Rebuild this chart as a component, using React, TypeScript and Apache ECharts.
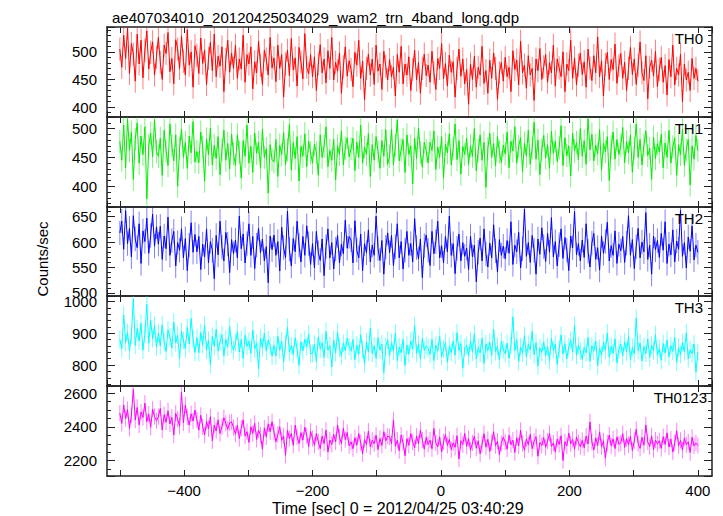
import React, { useEffect, useRef } from "react";
import * as echarts from "echarts";

const TITLE = "ae407034010_20120425034029_wam2_trn_4band_long.qdp";
const X_NAME = "Time [sec] 0 = 2012/04/25 03:40:29";
const Y_NAME = "Counts/sec";

// time grid (seconds), -500 .. 400
const T_START = -500;
const T_STEP = 3;
const N_POINTS = 301;
const TIMES: number[] = Array.from({ length: N_POINTS }, (_, i) => T_START + T_STEP * i);

const PANEL_NAMES = ["TH0", "TH1", "TH2", "TH3", "TH0123"];

const TH0 = [
  505, 472, 530, 488, 543, 461, 515, 496, 447, 532, 478, 521, 453, 503, 538, 469, 499, 518, 458, 490,
  526, 481, 450, 512, 497, 535, 464, 488, 442, 522, 505, 470, 529, 483, 458, 540, 476, 500, 436, 511,
  494, 461, 525, 479, 503, 441, 488, 517, 466, 532, 455, 492, 474, 509, 428, 486, 521, 463, 498, 470,
  512, 452, 487, 469, 530, 445, 495, 478, 509, 433, 482, 462, 519, 476, 441, 503, 487, 458, 526, 471,
  489, 446, 512, 470, 495, 418, 478, 503, 457, 524, 467, 489, 438, 508, 482, 451, 533, 472, 460, 495,
  455, 491, 430, 478, 513, 462, 487, 444, 502, 470, 526, 449, 481, 465, 498, 425, 473, 509, 456, 484,
  468, 437, 499, 476, 521, 452, 483, 413, 470, 496, 458, 487, 441, 512, 465, 478, 432, 501, 474, 449,
  486, 455, 472, 420, 495, 463, 510, 442, 478, 458, 491, 430, 468, 503, 449, 481, 425, 470, 496, 457,
  476, 445, 501, 462, 432, 488, 470, 515, 451, 479, 438, 494, 463, 482, 418, 470, 505, 456, 487, 442,
  468, 405, 478, 450, 492, 436, 472, 458, 510, 443, 466, 425, 485, 452, 498, 470, 414, 462, 481, 447,
  490, 455, 472, 428, 502, 468, 485, 440, 519, 462, 476, 434, 493, 458, 470, 412, 487, 466, 506, 450,
  473, 495, 445, 480, 462, 512, 438, 487, 471, 455, 500, 428, 478, 466, 521, 452, 489, 440, 476, 498,
  459, 482, 436, 505, 471, 448, 493, 462, 527, 455, 484, 420, 477, 499, 450, 486, 468, 514, 443, 475,
  497, 452, 481, 430, 470, 508, 459, 487, 441, 476, 518, 462, 448, 493, 415, 472, 485, 456, 501, 437,
  468, 490, 445, 475, 422, 486, 455, 512, 440, 470, 458, 496, 410, 478, 449, 463, 430, 488, 452, 470,
  447,
];

const TH1 = [
  478, 445, 506, 432, 517, 462, 494, 412, 481, 510, 440, 487, 455, 503, 378, 470, 492, 451, 515, 460,
  452, 483, 419, 497, 461, 436, 508, 470, 444, 489, 400, 466, 499, 450, 476, 431, 487, 458, 512, 442,
  460, 441, 494, 468, 409, 482, 455, 501, 437, 471, 448, 486, 420, 463, 497, 445, 474, 430, 490, 456,
  436, 489, 459, 414, 479, 452, 506, 440, 469, 424, 492, 457, 476, 431, 499, 450, 465, 388, 472, 446,
  442, 481, 417, 471, 455, 493, 437, 463, 507, 428, 476, 448, 486, 409, 469, 452, 491, 434, 478, 458,
  440, 473, 458, 419, 489, 450, 469, 503, 434, 462, 445, 481, 411, 470, 455, 496, 437, 466, 484, 451,
  465, 483, 427, 476, 450, 506, 440, 468, 455, 491, 417, 472, 445, 486, 460, 431, 479, 452, 498, 438,
  452, 499, 437, 471, 515, 444, 463, 481, 424, 489, 455, 470, 404, 483, 448, 501, 458, 433, 476, 462,
  440, 476, 462, 496, 429, 468, 450, 486, 414, 473, 458, 491, 437, 465, 508, 446, 479, 421, 469, 455,
  483, 438, 470, 452, 500, 427, 462, 489, 445, 476, 398, 465, 492, 450, 474, 435, 486, 459, 441, 471,
  456, 494, 432, 478, 461, 503, 440, 469, 484, 425, 475, 452, 497, 438, 466, 511, 447, 480, 420, 463,
  488, 449, 472, 431, 495, 457, 478, 443, 466, 505, 436, 484, 453, 470, 418, 492, 461, 476, 446, 500,
  452, 479, 438, 517, 463, 490, 444, 471, 456, 498, 428, 475, 460, 486, 410, 468, 494, 447, 481, 455,
  470, 502, 441, 477, 458, 489, 424, 466, 508, 450, 481, 437, 471, 496, 453, 466, 412, 485, 448, 474,
  459, 490, 432, 475, 450, 497, 440, 468, 484, 419, 472, 455, 499, 436, 463, 481, 402, 470, 447, 488,
  462,
];

const TH2 = [
  618, 641, 586, 662, 597, 627, 571, 652, 606, 589, 636, 558, 622, 601, 647, 578, 613, 655, 592, 630,
  596, 631, 566, 612, 587, 649, 574, 603, 621, 553, 599, 584, 626, 569, 607, 544, 594, 638, 580, 615,
  581, 611, 546, 596, 571, 626, 559, 601, 584, 528, 613, 575, 641, 590, 563, 619, 596, 540, 605, 577,
  604, 569, 651, 587, 616, 559, 597, 636, 574, 611, 548, 594, 627, 579, 606, 563, 591, 520, 612, 585,
  614, 574, 601, 543, 629, 589, 569, 661, 586, 553, 607, 581, 641, 594, 561, 611, 574, 632, 597, 556,
  597, 549, 621, 579, 564, 606, 534, 591, 626, 569, 599, 547, 586, 613, 559, 596, 577, 643, 588, 611,
  604, 559, 642, 584, 569, 616, 544, 597, 579, 624, 561, 594, 574, 651, 587, 564, 603, 537, 590, 618,
  579, 613, 554, 591, 636, 569, 601, 547, 584, 621, 574, 597, 561, 646, 589, 567, 606, 530, 593, 614,
  584, 554, 621, 577, 601, 641, 569, 593, 559, 611, 581, 651, 574, 597, 538, 588, 616, 563, 599, 572,
  588, 546, 612, 571, 594, 522, 580, 608, 563, 626, 577, 551, 598, 569, 634, 583, 541, 605, 574, 592,
  567, 603, 578, 640, 556, 594, 581, 619, 549, 587, 665, 572, 599, 560, 613, 584, 537, 606, 576, 628,
  591, 562, 617, 580, 648, 571, 601, 553, 595, 626, 568, 609, 584, 544, 612, 589, 660, 575, 597, 563,
  604, 570, 636, 582, 551, 598, 617, 566, 589, 545, 612, 578, 601, 639, 563, 593, 574, 622, 558, 596,
  583, 611, 560, 598, 652, 574, 605, 548, 591, 627, 569, 600, 581, 658, 566, 594, 537, 612, 585, 603,
  570, 617, 584, 640, 558, 596, 575, 624, 561, 602, 586, 663, 572, 599, 549, 610, 582, 632, 565, 594,
  580,
];

const TH3 = [
  880, 852, 958, 871, 903, 845, 896, 1008, 862, 915, 876, 932, 847, 898, 992, 869, 941, 883, 925, 857,
  901, 861, 927, 874, 843, 911, 889, 854, 936, 870, 894, 821, 906, 878, 851, 919, 867, 947, 882, 840,
  886, 839, 903, 864, 926, 847, 879, 801, 891, 859, 913, 844, 873, 896, 829, 881, 857, 922, 865, 848,
  870, 906, 841, 881, 821, 894, 859, 876, 837, 911, 851, 869, 788, 885, 854, 901, 844, 879, 862, 828,
  863, 829, 891, 847, 876, 809, 867, 919, 841, 861, 834, 886, 851, 799, 873, 845, 881, 858, 898, 836,
  837, 866, 811, 889, 851, 871, 824, 907, 847, 861, 794, 879, 839, 904, 853, 829, 869, 846, 884, 858,
  844, 881, 817, 863, 834, 896, 849, 804, 873, 841, 917, 837, 861, 821, 886, 847, 866, 776, 858, 879,
  829, 871, 844, 901, 814, 857, 839, 881, 799, 863, 834, 876, 851, 924, 837, 866, 819, 884, 846, 860,
  854, 834, 881, 814, 863, 844, 891, 827, 851, 871, 809, 859, 839, 876, 831, 902, 846, 868, 790, 855,
  862, 828, 877, 841, 899, 819, 856, 838, 884, 805, 867, 846, 872, 830, 913, 842, 858, 816, 875, 849,
  836, 869, 822, 861, 952, 845, 880, 811, 857, 839, 893, 825, 866, 848, 906, 833, 871, 797, 854, 840,
  873, 829, 859, 814, 884, 847, 866, 802, 851, 895, 835, 868, 820, 857, 879, 841, 925, 830, 862, 845,
  818, 856, 839, 887, 812, 861, 844, 876, 798, 853, 831, 871, 847, 901, 825, 859, 838, 883, 807, 850,
  866, 829, 874, 841, 890, 817, 856, 835, 948, 846, 870, 813, 858, 837, 882, 824, 863, 845, 896, 831,
  852, 815, 868, 838, 879, 826, 861, 843, 888, 809, 855, 833, 871, 842, 902, 820, 849, 836, 866, 778,
  840,
];

const TH0123 = [
  2482, 2421, 2531, 2449, 2503, 2392, 2470, 2622, 2441, 2516, 2412, 2489, 2456, 2541, 2432, 2476, 2398, 2505, 2462, 2437,
  2461, 2510, 2382, 2473, 2428, 2496, 2418, 2457, 2352, 2481, 2446, 2404, 2605, 2424, 2530, 2460, 2411, 2478, 2435, 2500,
  2441, 2381, 2469, 2402, 2352, 2432, 2389, 2461, 2318, 2411, 2376, 2442, 2361, 2401, 2455, 2421, 2386, 2425, 2430, 2396,
  2357, 2411, 2331, 2392, 2442, 2346, 2372, 2308, 2401, 2362, 2421, 2326, 2382, 2351, 2268, 2394, 2341, 2418, 2372, 2431,
  2369, 2312, 2356, 2401, 2321, 2347, 2232, 2380, 2331, 2362, 2291, 2411, 2342, 2302, 2366, 2322, 2398, 2349, 2283, 2374,
  2331, 2291, 2361, 2312, 2271, 2346, 2302, 2381, 2251, 2322, 2296, 2356, 2311, 2412, 2341, 2301, 2392, 2325, 2367, 2288,
  2312, 2271, 2336, 2292, 2361, 2306, 2241, 2326, 2296, 2376, 2281, 2321, 2301, 2351, 2266, 2331, 2291, 2372, 2318, 2345,
  2341, 2301, 2442, 2286, 2321, 2259, 2352, 2306, 2229, 2331, 2291, 2361, 2311, 2276, 2346, 2301, 2381, 2322, 2268, 2338,
  2296, 2321, 2271, 2391, 2306, 2281, 2341, 2251, 2311, 2356, 2291, 2326, 2266, 2305, 2279, 2348, 2210, 2318, 2295, 2362,
  2285, 2331, 2262, 2305, 2346, 2274, 2318, 2241, 2297, 2360, 2280, 2326, 2255, 2308, 2372, 2289, 2315, 2236, 2302, 2340,
  2310, 2268, 2351, 2295, 2322, 2248, 2336, 2287, 2380, 2301, 2262, 2329, 2294, 2356, 2271, 2315, 2343, 2226, 2308, 2290,
  2337, 2279, 2316, 2362, 2285, 2305, 2252, 2328, 2296, 2348, 2201, 2313, 2287, 2364, 2300, 2326, 2268, 2340, 2308, 2283,
  2320, 2277, 2346, 2299, 2430, 2312, 2263, 2335, 2290, 2371, 2282, 2318, 2215, 2305, 2352, 2288, 2329, 2272, 2341, 2298,
  2305, 2360, 2279, 2331, 2294, 2345, 2260, 2318, 2386, 2301, 2273, 2338, 2292, 2412, 2311, 2284, 2347, 2266, 2322, 2300,
  2318, 2273, 2342, 2296, 2365, 2281, 2328, 2251, 2306, 2377, 2289, 2320, 2262, 2335, 2294, 2312, 2248, 2339, 2287, 2305,
  2290,
];

// half-length of the 1-sigma error bars, per panel
const ERRORS = [21, 20, 24, 28, 48];

const SERIES_VALUES = [TH0, TH1, TH2, TH3, TH0123];

// axis ranges and tick steps, per panel
const Y_MIN = [382, 364, 494, 734, 2109];
const Y_MAX = [545, 520, 669, 1018, 2643];
const Y_STEP = [50, 50, 50, 100, 200];
const Y_MINOR = [5, 5, 5, 5, 4];
const X_MIN = -520;
const X_MAX = 422;
const X_STEP = 100;

const COLORS = ["#ff0000", "#00ee00", "#0000ff", "#00ffff", "#ff00ff"];
const BAR_COLORS = ["rgba(255,0,0,0.5)", "rgba(0,230,0,0.5)", "rgba(0,0,255,0.5)", "rgba(0,255,255,0.55)", "rgba(255,0,255,0.5)"];

const FONT = "Liberation Sans, Arial, Helvetica, sans-serif";
const AXIS_COLOR = "#222";

export default function App() {
  const ref = useRef<HTMLDivElement>(null);

  useEffect(() => {
    if (!ref.current) return;
    const chart = echarts.init(ref.current, undefined, { renderer: "svg" });

    const tops = [27, 117, 207, 296, 386];
    const heights = [90, 90, 89, 90, 90];
    const labelRight = [703, 703, 703, 703, 707];

    const grids: any[] = [];
    const xAxes: any[] = [];
    const yAxes: any[] = [];
    const series: any[] = [];
    const graphics: any[] = [];

    PANEL_NAMES.forEach((name, i) => {
      grids.push({ left: 107, right: 11, top: tops[i], height: heights[i], containLabel: false });
      const axisLine = { show: true, onZero: false, lineStyle: { color: AXIS_COLOR, width: 1.5 } };
      const isLast = i === PANEL_NAMES.length - 1;
      xAxes.push({
        type: "value",
        gridIndex: i,
        min: X_MIN,
        max: X_MAX,
        minInterval: X_STEP,
        maxInterval: X_STEP,
        position: "bottom",
        axisLine,
        axisTick: { show: true, inside: true, length: 6, lineStyle: { color: AXIS_COLOR, width: 1 } },
        splitLine: { show: false },
        axisLabel: {
          show: isLast,
          showMinLabel: false,
          showMaxLabel: false,
          margin: 7,
          fontSize: 15,
          fontFamily: FONT,
          color: "#000",
          formatter: (v: number) => (v % 200 === 0 ? String(v).replace("-", "\u2212") : ""),
        },
      });
      xAxes.push({
        type: "value",
        gridIndex: i,
        min: X_MIN,
        max: X_MAX,
        minInterval: X_STEP,
        maxInterval: X_STEP,
        position: "top",
        axisLine,
        axisTick: { show: true, inside: true, length: 6, lineStyle: { color: AXIS_COLOR, width: 1 } },
        splitLine: { show: false },
        axisLabel: { show: false },
      });
      const yCommon = {
        type: "value",
        gridIndex: i,
        min: Y_MIN[i],
        max: Y_MAX[i],
        minInterval: Y_STEP[i],
        maxInterval: Y_STEP[i],
        axisLine,
        splitLine: { show: false },
        minorSplitLine: { show: false },
        axisTick: { show: true, inside: true, length: 8, lineStyle: { color: AXIS_COLOR, width: 1 } },
        minorTick: { show: true, splitNumber: Y_MINOR[i], length: 4, lineStyle: { color: AXIS_COLOR, width: 1 } },
      };
      yAxes.push({
        ...yCommon,
        position: "left",
        axisLabel: {
          show: true,
          showMinLabel: false,
          showMaxLabel: false,
          margin: 10,
          fontSize: 15,
          fontFamily: FONT,
          color: "#000",
          formatter: (v: number) => String(v),
        },
      });
      yAxes.push({
        ...yCommon,
        position: "right",
        axisLabel: { show: false },
      });

      const vals = SERIES_VALUES[i];
      const err = ERRORS[i];
      const barColor = BAR_COLORS[i];
      series.push({
        type: "custom",
        xAxisIndex: 2 * i,
        yAxisIndex: 2 * i,
        data: TIMES.map((t, k) => [t, vals[k], err]),
        encode: { x: 0, y: 1 },
        z: 2,
        renderItem: (params: any, api: any) => {
          const x = api.value(0);
          const y = api.value(1);
          const e = api.value(2);
          const hi = api.coord([x, y + e]);
          const lo = api.coord([x, y - e]);
          const cs = params.coordSys;
          const y1 = Math.max(hi[1], cs.y);
          const y2 = Math.min(lo[1], cs.y + cs.height);
          if (y2 <= y1) return null;
          return {
            type: "line",
            shape: { x1: hi[0], y1, x2: lo[0], y2 },
            style: { stroke: barColor, lineWidth: 1 },
          };
        },
      });
      series.push({
        type: "line",
        xAxisIndex: 2 * i,
        yAxisIndex: 2 * i,
        data: TIMES.map((t, k) => [t, vals[k]]),
        showSymbol: false,
        symbol: "none",
        clip: true,
        z: 3,
        lineStyle: { color: COLORS[i], width: 1 },
      });

      graphics.push({
        type: "text",
        x: labelRight[i],
        y: tops[i] + 11,
        style: {
          text: name,
          textAlign: "right",
          textVerticalAlign: "middle",
          fontSize: 15,
          fontFamily: FONT,
          fill: "#000",
        },
        z: 10,
      });
    });

    graphics.push({
      type: "text",
      x: 42,
      y: 259,
      rotation: Math.PI / 2,
      style: {
        text: Y_NAME,
        textAlign: "center",
        textVerticalAlign: "middle",
        fontSize: 15,
        fontFamily: FONT,
        fill: "#000",
      },
    });
    graphics.push({
      type: "text",
      x: 272,
      y: 508,
      style: {
        text: X_NAME,
        textAlign: "left",
        textVerticalAlign: "middle",
        fontSize: 16,
        fontFamily: FONT,
        fill: "#000",
      },
    });

    chart.setOption({
      animation: false,
      backgroundColor: "#fff",
      title: {
        text: TITLE,
        left: 107,
        top: 5,
        textStyle: { fontSize: 15, fontWeight: "normal", color: "#000", fontFamily: FONT },
      },
      grid: grids,
      xAxis: xAxes,
      yAxis: yAxes,
      series,
      graphic: graphics,
    });

    return () => chart.dispose();
  }, []);

  return <div ref={ref} style={{ width: 723, height: 516, position: "absolute", left: 0, top: 0 }} />;
}
